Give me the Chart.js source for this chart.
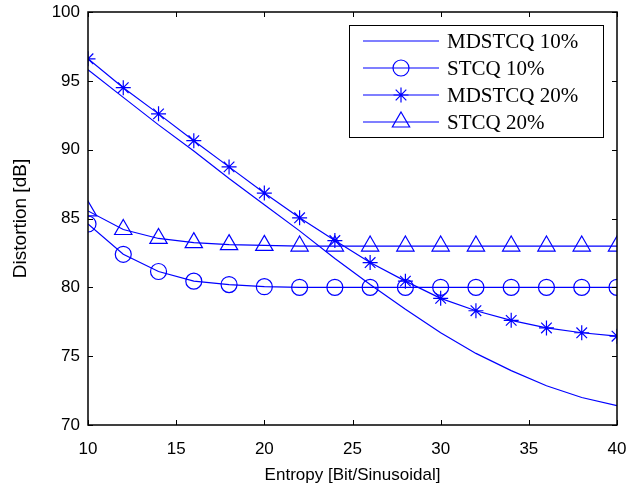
<!DOCTYPE html>
<html>
<head>
<meta charset="utf-8">
<script src="https://cdn.jsdelivr.net/npm/chart.js@4"></script>
<style>
html,body{margin:0;padding:0;background:#fff;}
#wrap{width:637px;height:487px;}
</style>
</head>
<body>
<div id="wrap"><canvas id="chart-1" width="637" height="487"></canvas></div>
<script>
// entropy values (x axis)
const entropy=[10,12,14,16,18,20,22,24,26,28,30,32,34,36,38,40];
const mdstcq10=[95.8,93.8,91.8,89.9,87.9,86.0,84.1,82.1,80.2,78.4,76.7,75.2,73.95,72.85,72.0,71.4];
const stcq10=[84.6,82.4,81.15,80.45,80.2,80.05,80.0,80.0,80.0,80.0,80.0,80.0,80.0,80.0,80.0,80.0];
const mdstcq20=[96.6,94.5,92.6,90.65,88.75,86.85,85.05,83.4,81.8,80.45,79.2,78.3,77.6,77.05,76.7,76.45];
const stcq20=[85.55,84.2,83.55,83.25,83.1,83.05,83.0,83.0,83.0,83.0,83.0,83.0,83.0,83.0,83.0,83.0];
const xTicks=[10,15,20,25,30,35,40];
const yTicks=[70,75,80,85,90,95,100];

const blue='#0000ff';
const sans='"Liberation Sans", Arial, sans-serif';
const pts=arr=>arr.map((v,i)=>({x:entropy[i],y:v}));
function series(label,arr,style,r){
  return {label,data:pts(arr),borderColor:blue,backgroundColor:'rgba(0,0,0,0)',
    borderWidth:1.2,pointStyle:style||'circle',pointRadius:style?r:0,pointBorderWidth:1.2,
    pointBorderColor:blue,pointBackgroundColor:'rgba(0,0,0,0)',tension:0};
}

// box + inward ticks, like matlab axes
const frame={
  id:'frame',
  afterDraw(chart){
    const {ctx,chartArea:a,scales}=chart;
    ctx.save();
    ctx.strokeStyle='#000';ctx.lineWidth=1.5;
    ctx.strokeRect(a.left,a.top,a.right-a.left,a.bottom-a.top);
    ctx.lineWidth=1;
    ctx.beginPath();
    xTicks.forEach(t=>{
      const px=Math.round(scales.x.getPixelForValue(t))+0.5;
      ctx.moveTo(px,a.bottom);ctx.lineTo(px,a.bottom-5);
      ctx.moveTo(px,a.top);ctx.lineTo(px,a.top+5);
    });
    yTicks.forEach(t=>{
      const py=Math.round(scales.y.getPixelForValue(t))+0.5;
      ctx.moveTo(a.left,py);ctx.lineTo(a.left+5,py);
      ctx.moveTo(a.right,py);ctx.lineTo(a.right-5,py);
    });
    ctx.stroke();
    ctx.restore();
  }
};

// legend box with line + marker samples
const boxLegend={
  id:'boxLegend',
  afterDraw(chart){
    const {ctx}=chart;
    const x0=349,y0=25,w=254,h=112;
    ctx.save();
    ctx.fillStyle='#fff';ctx.fillRect(x0,y0,w,h);
    ctx.strokeStyle='#000';ctx.lineWidth=1;ctx.strokeRect(x0+0.5,y0+0.5,w,h);
    ctx.font='21px "Liberation Serif", "DejaVu Serif", serif';
    ctx.textBaseline='middle';
    chart.data.datasets.forEach((ds,i)=>{
      const y=41+i*27;
      ctx.strokeStyle=blue;ctx.lineWidth=1.2;
      ctx.beginPath();ctx.moveTo(x0+14,y);ctx.lineTo(x0+90,y);ctx.stroke();
      if(ds.pointRadius>0){
        ctx.fillStyle='rgba(0,0,0,0)';
        Chart.helpers.drawPoint(ctx,{pointStyle:ds.pointStyle,radius:ds.pointRadius,rotation:0,borderWidth:1.2},x0+52,y);
      }
      ctx.fillStyle='#000';
      ctx.fillText(ds.label,x0+98,y+1);
    });
    ctx.restore();
  }
};

const ctx=document.getElementById('chart-1');
new Chart(ctx.getContext('2d'),{
  type:'line',
  data:{datasets:[
    series('MDSTCQ 10%',mdstcq10),
    series('STCQ 10%',stcq10,'circle',8),
    series('MDSTCQ 20%',mdstcq20,'star',7.5),
    series('STCQ 20%',stcq20,'triangle',10)
  ]},
  options:{
    responsive:false,
    animation:false,
    layout:{padding:{left:0,top:12,right:20,bottom:0}},
    plugins:{legend:{display:false},tooltip:{enabled:false}},
    scales:{
      x:{
        type:'linear',min:10,max:40,
        afterBuildTicks:s=>{s.ticks=xTicks.map(v=>({value:v}));},
        afterFit:s=>{s.height=62;s.paddingLeft=0;s.paddingRight=0;},
        grid:{display:false,drawTicks:false},border:{display:false},
        ticks:{color:'#000',padding:14,maxRotation:0,font:{family:sans,size:17}},
        title:{display:true,text:'Entropy [Bit/Sinusoidal]',color:'#000',padding:{top:2,bottom:1},font:{family:sans,size:17}}
      },
      y:{
        type:'linear',min:70,max:100,
        afterBuildTicks:s=>{s.ticks=yTicks.map(v=>({value:v}));},
        afterFit:s=>{s.width=88;s.paddingTop=0;s.paddingBottom=0;},
        grid:{display:false,drawTicks:false},border:{display:false},
        ticks:{color:'#000',padding:8,font:{family:sans,size:17}},
        title:{display:true,text:'Distortion [dB]',color:'#000',padding:{top:9,bottom:0},font:{family:sans,size:19}}
      }
    }
  },
  plugins:[frame,boxLegend]
});
</script>
</body>
</html>
